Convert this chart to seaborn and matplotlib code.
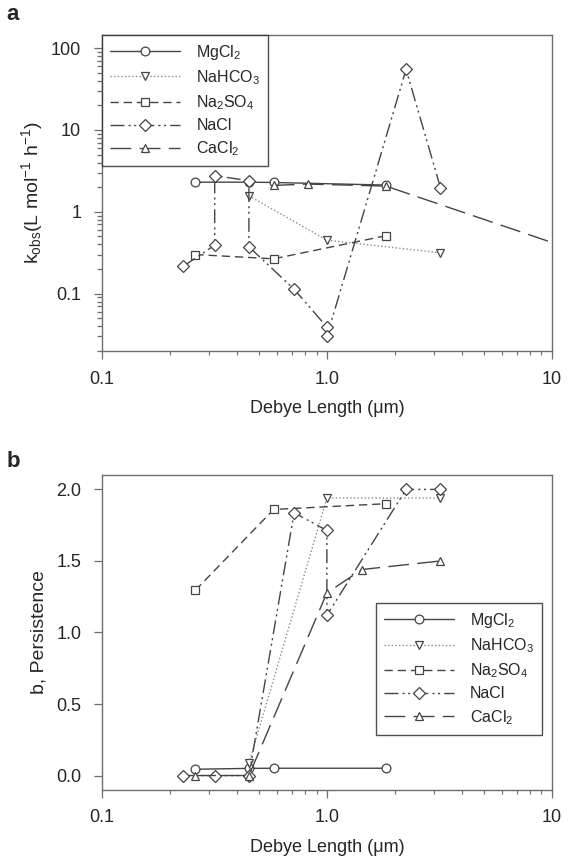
import numpy as np
import pandas as pd
import matplotlib
matplotlib.use("Agg")
import matplotlib.pyplot as plt
import matplotlib.ticker as mticker
import seaborn as sns

# Panel a: k_obs vs Debye length
mgcl2_a_x = [0.26, 0.45, 0.58, 1.83]
mgcl2_a_y = [2.3, 2.3, 2.28, 2.12]
nahco3_a_x = [0.45, 1.0, 3.2]
nahco3_a_y = [1.57, 0.45, 0.315]
na2so4_a_x = [0.26, 0.58, 1.83]
na2so4_a_y = [0.30, 0.266, 0.51]
nacl_a_x = [0.23, 0.317, 0.317, 0.45, 0.45, 0.715, 1.0, 1.0, 2.25, 3.2]
nacl_a_y = [0.216, 0.39, 2.76, 2.4, 0.373, 0.113, 0.039, 0.030, 55.0, 1.97]
cacl2_a_x = [0.58, 0.82, 1.83, 12.0]
cacl2_a_y = [2.1, 2.18, 2.06, 0.356]

# Panel b: persistence vs Debye length
mgcl2_b_x = [0.26, 0.45, 0.58, 1.83]
mgcl2_b_y = [0.044, 0.05, 0.051, 0.051]
nahco3_b_x = [0.45, 1.0, 3.2]
nahco3_b_y = [0.086, 1.94, 1.94]
na2so4_b_x = [0.26, 0.58, 1.83]
na2so4_b_y = [1.295, 1.86, 1.90]
nacl_b_x = [0.23, 0.317, 0.45, 0.715, 1.0, 1.0, 2.25, 3.2]
nacl_b_y = [0.0, 0.0, 0.0, 1.837, 1.713, 1.12, 2.0, 2.0]
cacl2_b_x = [0.26, 0.45, 1.0, 1.43, 3.2]
cacl2_b_y = [0.0, 0.0, 1.277, 1.44, 1.50]

names = ["MgCl$_2$", "NaHCO$_3$", "Na$_2$SO$_4$", "NaCl", "CaCl$_2$"]
markers = ["o", "v", "s", "D", "^"]
msizes = [6.3, 6.3, 6.3, 6, 6.3]
dashes = ["-", (0, (1, 1.6)), (0, (6, 3.5)), (0, (10, 3, 1.5, 2.5, 1.5, 3)), (0, (15, 6))]
colors = ["#444444", "#8a8a8a", "#444444", "#444444", "#444444"]

sns.set_style("ticks")
plt.rcParams["font.family"] = ["Liberation Sans", "DejaVu Sans"]
plt.rcParams["mathtext.fontset"] = "custom"
plt.rcParams["mathtext.rm"] = "Liberation Sans"
plt.rcParams["mathtext.it"] = "Liberation Sans"

fig = plt.figure(figsize=(5.7, 8.67), dpi=100)
pos_a = [0.179, 0.595, 0.789, 0.365]
ax_a = fig.add_axes(pos_a)
ax_b = fig.add_axes([0.179, 0.089, 0.789, 0.363])

data_a = [(mgcl2_a_x, mgcl2_a_y), (nahco3_a_x, nahco3_a_y), (na2so4_a_x, na2so4_a_y),
          (nacl_a_x, nacl_a_y), (cacl2_a_x, cacl2_a_y)]
data_b = [(mgcl2_b_x, mgcl2_b_y), (nahco3_b_x, nahco3_b_y), (na2so4_b_x, na2so4_b_y),
          (nacl_b_x, nacl_b_y), (cacl2_b_x, cacl2_b_y)]

leg_kw = dict(fontsize=11.5, frameon=True, fancybox=False, handlelength=4.4,
              handletextpad=1.0, labelspacing=0.4, borderpad=0.5, borderaxespad=0)

# minor tick positions for the log axes (2..9 per decade)
log_minor = [k * 10.0 ** e for e in range(-2, 3) for k in range(2, 10)]
ylim_a = (0.0198, 146)


def draw(ax, data):
    for i, (xs, ys) in enumerate(data):
        df = pd.DataFrame({"x": xs, "y": ys})
        sns.lineplot(data=df, x="x", y="y", ax=ax, sort=False, estimator=None,
                     color=colors[i], linestyle=dashes[i], linewidth=1.0,
                     marker=markers[i], markersize=msizes[i],
                     markerfacecolor="white", markeredgecolor="#444444",
                     markeredgewidth=0.9, label=names[i], zorder=3 + i)
    for s in ax.spines.values():
        s.set_visible(True)
        s.set_color("#6e6e6e")
        s.set_linewidth(1.0)


draw(ax_a, data_a)
leg_a = ax_a.legend(loc="upper left", **leg_kw)
leg_a.get_frame().set_edgecolor("#222222")
leg_a.get_frame().set_linewidth(1.0)
ax_a.set_ylabel("k$_{\\rm obs}$(L mol$^{-1}$ h$^{-1}$)", fontsize=14, labelpad=4)

draw(ax_b, data_b)
leg_b = ax_b.legend(loc="upper left", bbox_to_anchor=(0.609, 0.594), **leg_kw)
leg_b.get_frame().set_edgecolor("#222222")
leg_b.get_frame().set_linewidth(1.0)
ax_b.set_ylabel("b, Persistence", fontsize=14, labelpad=6)

# axes scales and ticks, set after all drawing
for ax in (ax_a, ax_b):
    ax.set_xscale("log")
    ax.set_xlim(0.1, 10)
    ax.set_xticks([0.1, 1, 10])
    ax.set_xticklabels(["0.1", "1.0", "10"])
    ax.xaxis.set_minor_locator(mticker.FixedLocator(log_minor))
    ax.xaxis.set_minor_formatter(mticker.NullFormatter())
    ax.set_xlabel("Debye Length (μm)", fontsize=13, labelpad=9)

ax_a.set_yscale("log")
ax_a.set_ylim(*ylim_a)
ax_a.set_yticks([0.1, 1, 10, 100])
ax_a.set_yticklabels(["0.1", "1", "10", "100"])
ax_a.yaxis.set_minor_locator(mticker.FixedLocator(log_minor))
ax_a.yaxis.set_minor_formatter(mticker.NullFormatter())

ax_b.set_ylim(-0.1, 2.1)
ax_b.set_yticks([0.0, 0.5, 1.0, 1.5, 2.0])
ax_b.set_yticklabels(["0.0", "0.5", "1.0", "1.5", "2.0"])
ax_b.yaxis.set_minor_locator(mticker.NullLocator())

for ax in (ax_a, ax_b):
    ax.tick_params(axis="both", which="major", length=6, width=0.9, color="#6e6e6e",
                   labelsize=13, direction="out")
    ax.tick_params(axis="both", which="minor", length=3, width=0.8, color="#6e6e6e",
                   direction="out")
    ax.tick_params(axis="y", which="major", pad=9)
    ax.tick_params(axis="x", which="major", pad=8)

# empty overlay axes carrying the log minor ticks of panel a's y axis
ax_m = fig.add_axes(pos_a, facecolor="none", zorder=5)
ax_m.set_yscale("log")
ax_m.set_ylim(*ylim_a)
ax_m.yaxis.set_major_locator(mticker.NullLocator())
ax_m.yaxis.set_minor_locator(mticker.FixedLocator(log_minor))
ax_m.yaxis.set_minor_formatter(mticker.NullFormatter())
ax_m.set_xticks([])
ax_m.tick_params(axis="y", which="minor", left=True, right=False, length=3.5,
                 width=0.9, color="#6e6e6e", direction="out")
for s in ax_m.spines.values():
    s.set_visible(False)

fig.text(0.012, 0.995, "a", fontsize=16, fontweight="bold", va="top")
fig.text(0.012, 0.48, "b", fontsize=16, fontweight="bold", va="top")

fig.savefig("out.png", dpi=100)
